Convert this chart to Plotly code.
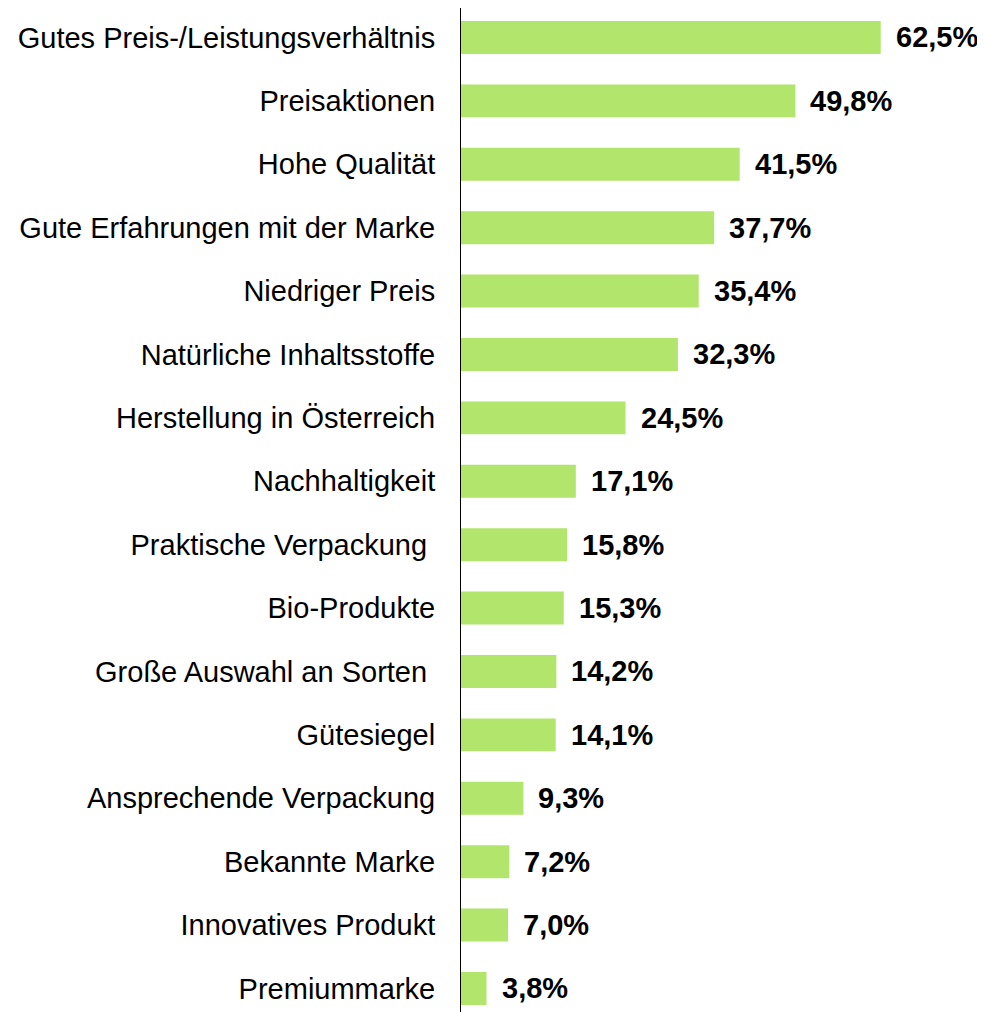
import plotly.graph_objects as go

categories = [
    "Gutes Preis-/Leistungsverhältnis",
    "Preisaktionen",
    "Hohe Qualität",
    "Gute Erfahrungen mit der Marke",
    "Niedriger Preis",
    "Natürliche Inhaltsstoffe",
    "Herstellung in Österreich",
    "Nachhaltigkeit",
    "Praktische Verpackung ",
    "Bio-Produkte",
    "Große Auswahl an Sorten ",
    "Gütesiegel",
    "Ansprechende Verpackung",
    "Bekannte Marke",
    "Innovatives Produkt",
    "Premiummarke",
]
values = [62.5, 49.8, 41.5, 37.7, 35.4, 32.3, 24.5, 17.1, 15.8, 15.3, 14.2, 14.1, 9.3, 7.2, 7.0, 3.8]

bar_color = "#B2E56B"
labels = [f"{v:.1f}".replace(".", ",") + "%" for v in values]

fig = go.Figure()
fig.add_trace(go.Bar(
    x=values,
    y=categories,
    orientation="h",
    marker=dict(color=bar_color, line=dict(width=0)),
    width=0.52,
    hoverinfo="skip",
))

# value labels to the right of the bars
for cat, v, lab in zip(categories, values, labels):
    fig.add_annotation(
        x=v, y=cat, text=f"<b>{lab}</b>",
        showarrow=False, xanchor="left", xshift=13,
        font=dict(family="Liberation Sans, Arial", size=29, color="black"),
    )

# page body has an 8px margin, so offsets are reduced by 8
fig.update_layout(
    width=985,
    height=1012,
    margin=dict(l=453, r=16, t=0, b=0),
    plot_bgcolor="white",
    paper_bgcolor="white",
    showlegend=False,
    font=dict(family="Liberation Sans, Arial", size=29, color="black"),
    xaxis=dict(range=[0, 76.84], visible=False, fixedrange=True),
    yaxis=dict(
        categoryorder="array",
        categoryarray=categories,
        range=[15.497, -0.465],
        showline=True,
        linecolor="black",
        linewidth=1,
        showgrid=False,
        zeroline=False,
        ticks="",
        ticklabelstandoff=19,
        tickfont=dict(size=29, color="black"),
    ),
)

fig.write_html("out.html")
